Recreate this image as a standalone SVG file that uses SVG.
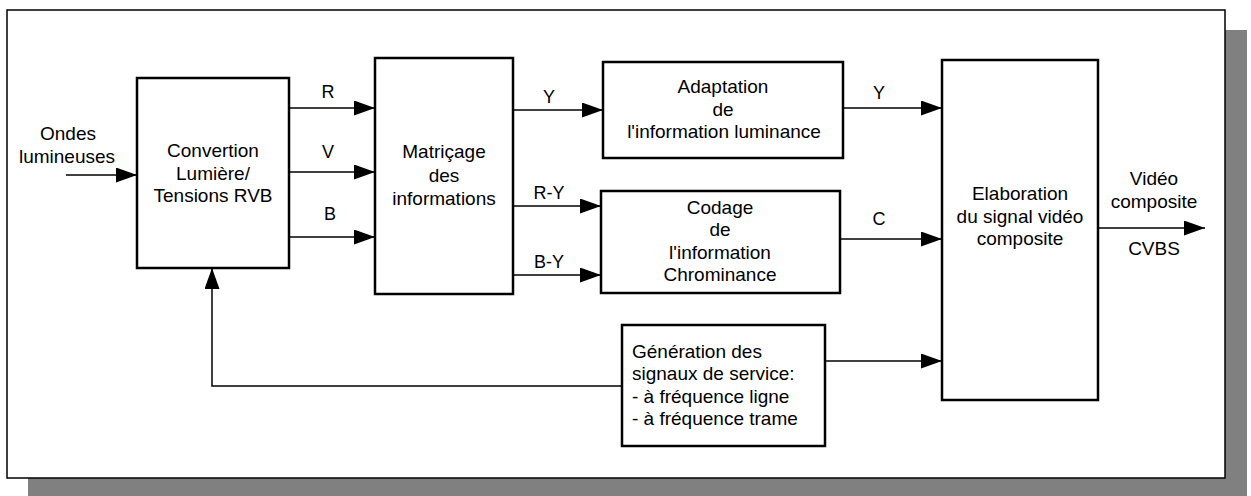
<svg xmlns="http://www.w3.org/2000/svg" width="1251" height="496" viewBox="0 0 1251 496">
<style>
.box{fill:#fff;stroke:#000;stroke-width:2.5}
.frame{fill:#fff;stroke:#000;stroke-width:1.5}
.shadow{fill:#808080;stroke:none}
.c{fill:none;stroke:#000;stroke-width:1.5}
text{font-family:"Liberation Sans",Arial,sans-serif;font-size:19px;fill:#000;text-anchor:middle}
.lbl{font-size:18px}
.left{text-anchor:start}
</style>
<defs>
<marker id="ah" markerUnits="userSpaceOnUse" markerWidth="22" markerHeight="16" refX="21" refY="7.5" orient="auto">
<path d="M0,0 L21,7.5 L0,15 Z" fill="#000"/>
</marker>
</defs>
<g id="background">
<rect class="shadow" x="28" y="30" width="1219" height="470"/>
<rect class="frame" x="7" y="10" width="1218" height="468"/>
</g>
<g id="connectors">
<line class="c" x1="66" y1="175" x2="137" y2="175" marker-end="url(#ah)"/>
<line class="c" x1="289" y1="108" x2="375" y2="108" marker-end="url(#ah)"/>
<line class="c" x1="289" y1="172" x2="375" y2="172" marker-end="url(#ah)"/>
<line class="c" x1="289" y1="237" x2="375" y2="237" marker-end="url(#ah)"/>
<line class="c" x1="513" y1="110" x2="603" y2="110" marker-end="url(#ah)"/>
<line class="c" x1="513" y1="206" x2="601" y2="206" marker-end="url(#ah)"/>
<line class="c" x1="513" y1="275" x2="601" y2="275" marker-end="url(#ah)"/>
<line class="c" x1="843" y1="108" x2="942" y2="108" marker-end="url(#ah)"/>
<line class="c" x1="840" y1="239" x2="942" y2="239" marker-end="url(#ah)"/>
<line class="c" x1="825" y1="361" x2="942" y2="361" marker-end="url(#ah)"/>
<line class="c" x1="1098" y1="228" x2="1205" y2="228" marker-end="url(#ah)"/>
<path class="c" d="M622,386 L212,386 L212,268" marker-end="url(#ah)"/>
<text class="lbl" x="328" y="98">R</text>
<text class="lbl" x="328" y="158">V</text>
<text class="lbl" x="330" y="220">B</text>
<text class="lbl" x="549" y="103">Y</text>
<text class="lbl" x="549" y="199">R-Y</text>
<text class="lbl" x="549" y="268">B-Y</text>
<text class="lbl" x="879" y="99">Y</text>
<text class="lbl" x="879" y="225">C</text>
<text x="68" y="140">Ondes</text>
<text x="67" y="163">lumineuses</text>
<text x="1154" y="185">Vidéo</text>
<text x="1154" y="208">composite</text>
<text x="1154" y="255">CVBS</text>
</g>
<g id="convertion">
<rect class="box" x="137" y="78" width="152" height="190"/>
<text x="213" y="157">Convertion</text>
<text x="213" y="180">Lumière/</text>
<text x="213" y="202">Tensions RVB</text>
</g>
<g id="matricage">
<rect class="box" x="375" y="58" width="138" height="236"/>
<text x="444" y="158">Matriçage</text>
<text x="444" y="182">des</text>
<text x="444" y="205">informations</text>
</g>
<g id="adaptation">
<rect class="box" x="603" y="62" width="240" height="96"/>
<text x="723" y="93">Adaptation</text>
<text x="723" y="116">de</text>
<text x="724" y="138">l'information luminance</text>
</g>
<g id="codage">
<rect class="box" x="601" y="191" width="239" height="102"/>
<text x="720" y="214">Codage</text>
<text x="720" y="236">de</text>
<text x="720" y="259">l'information</text>
<text x="720" y="281">Chrominance</text>
</g>
<g id="elaboration">
<rect class="box" x="942" y="60" width="156" height="340"/>
<text x="1020" y="200">Elaboration</text>
<text x="1020" y="223">du signal vidéo</text>
<text x="1020" y="245">composite</text>
</g>
<g id="generation">
<rect class="box" x="622" y="325" width="203" height="121"/>
<text class="left" x="632" y="358">Génération des</text>
<text class="left" x="632" y="380">signaux de service:</text>
<text class="left" x="632" y="403">- à fréquence ligne</text>
<text class="left" x="632" y="425">- à fréquence trame</text>
</g>
</svg>
